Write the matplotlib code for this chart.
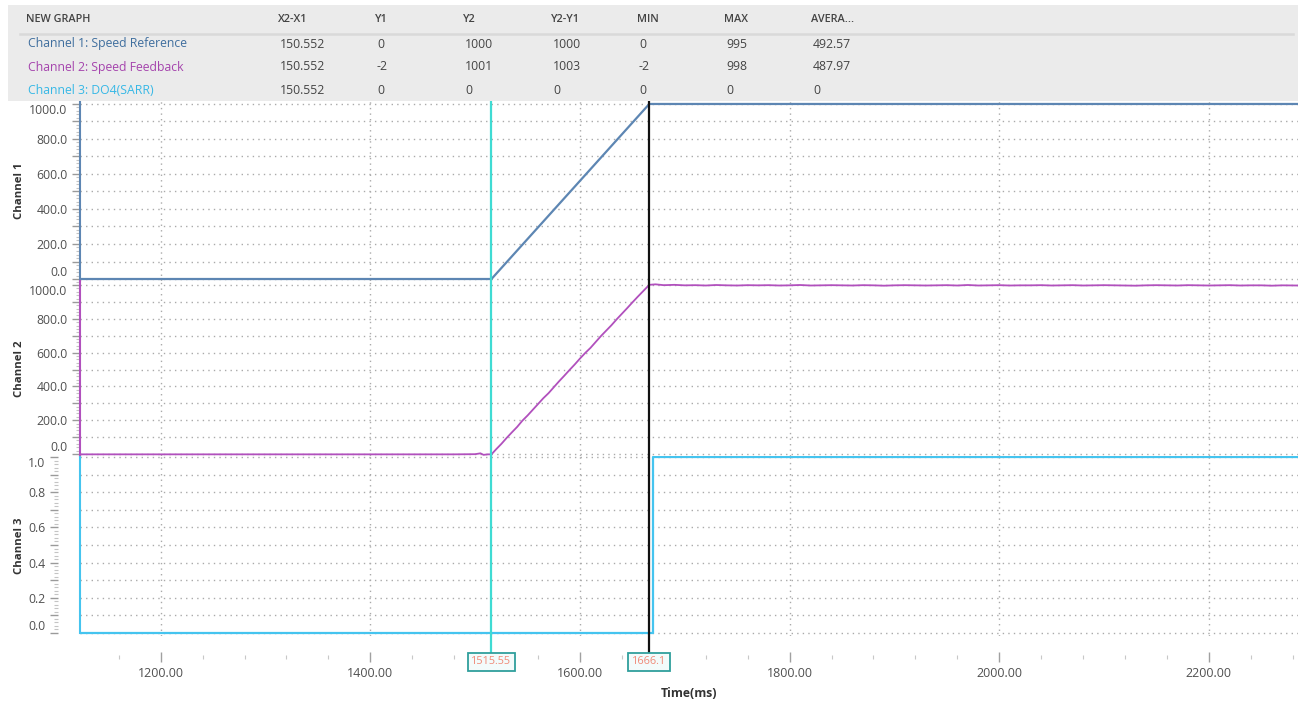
import matplotlib
matplotlib.use("Agg")
import matplotlib.pyplot as plt
from matplotlib.ticker import MultipleLocator, FuncFormatter
from matplotlib.patches import Rectangle
from matplotlib.lines import Line2D
from matplotlib.transforms import blended_transform_factory

plt.rcParams["font.family"] = ["Open Sans", "DejaVu Sans"]

# cursor positions (ms)
cursor_1 = 1515.55
cursor_2 = 1666.1

# channel 1: speed reference
ref_t = [1123, 1515.55, 1666.1, 2285]
ref_v = [0, 0, 1000, 1000]

# channel 2: speed feedback
fb_t = [1123, 1200, 1300, 1400, 1480, 1500, 1505, 1508, 1512, 1515.55,
        1520, 1525, 1530, 1535, 1540, 1545, 1550, 1555, 1560, 1565, 1570,
        1575, 1580, 1585, 1590, 1595, 1600, 1605, 1610, 1615, 1620, 1625,
        1630, 1635, 1640, 1645, 1650, 1655, 1660, 1666.1,
        1672, 1680, 1690, 1700, 1710, 1720, 1730, 1740, 1750, 1760, 1770,
        1780, 1790, 1800, 1810, 1820, 1830, 1840, 1850, 1860, 1870, 1880,
        1890, 1900, 1910, 1920, 1930, 1940, 1950, 1960, 1970, 1980, 1990,
        2000, 2010, 2020, 2030, 2040, 2050, 2060, 2070, 2080, 2090, 2100,
        2110, 2120, 2130, 2140, 2150, 2160, 2170, 2180, 2190, 2200, 2210,
        2220, 2230, 2240, 2250, 2260, 2270, 2285]
fb_v = [-2, -2, -2, -2, -2, -1, 4, -5, -2, -2,
        28, 60, 95, 128, 160, 197, 228, 262, 296, 330, 360,
        395, 430, 463, 497, 530, 565, 598, 628, 663, 698, 730,
        762, 797, 830, 863, 897, 930, 962, 1001,
        1004, 999, 1001, 998, 999, 997, 1000, 998, 997, 999, 998,
        999, 997, 998, 1000, 997, 998, 999, 998, 997, 999, 998,
        996, 998, 999, 998, 997, 998, 999, 997, 1000, 997, 998,
        999, 997, 998, 998, 999, 997, 998, 999, 997, 998, 999,
        998, 997, 996, 998, 999, 998, 997, 999, 998, 997, 998,
        999, 997, 998, 998, 996, 998, 997]

# channel 3: DO4(SARR)
do_t = [1123, 1669.5, 1669.5, 2285]
do_v = [0, 0, 1, 1]

# summary table
columns = ["X2-X1", "Y1", "Y2", "Y2-Y1", "MIN", "MAX", "AVERA..."]
channel_names = ["Channel 1: Speed Reference", "Channel 2: Speed Feedback",
                 "Channel 3: DO4(SARR)"]
table_rows = [
    ["150.552", "0", "1000", "1000", "0", "995", "492.57"],
    ["150.552", "-2", "1001", "1003", "-2", "998", "487.97"],
    ["150.552", "0", "0", "0", "0", "0", "0"],
]

c1 = "#5d86b3"
c2 = "#b150bd"
c3 = "#45c4ef"
name_colors = ["#3f6e9e", "#a544ad", "#37b8e6"]
cur1_color = "#3fdbd3"
text_gray = "#505050"
grid_gray = "#aaaaaa"

W, H = 1298, 711
fig = plt.figure(figsize=(W / 100, H / 100), dpi=100)


def fx(px):
    return px / W


def fy(py):
    return 1 - py / H


left = fx(80)
width = 1 - left
ax1 = fig.add_axes([left, fy(281), width, fy(101) - fy(281)])
ax2 = fig.add_axes([left, fy(456), width, fy(281) - fy(456)])
ax3 = fig.add_axes([left, fy(636), width, fy(456) - fy(636)])

ax1.plot(ref_t, ref_v, color=c1, lw=1.6)
ax2.plot(fb_t, fb_v, color=c2, lw=1.3)
ax3.plot(do_t, do_v, color=c3, lw=1.6)

ax1.set_ylim(-11.4, 1017)
ax2.set_ylim(-11.8, 1023.7)
ax3.set_ylim(-0.017, 1.0057)

spine_colors = [c1, c2, c3]
for i, ax in enumerate([ax1, ax2, ax3]):
    ax.set_xlim(1123, 2285)
    ax.set_facecolor("none")
    for s in ["top", "right", "bottom"]:
        ax.spines[s].set_visible(False)
    ax.spines["left"].set_color(spine_colors[i])
    ax.spines["left"].set_linewidth(1.5)
    ax.xaxis.set_major_locator(MultipleLocator(200))
    ax.xaxis.set_minor_locator(MultipleLocator(40))
    ax.grid(True, which="major", color=grid_gray, lw=1, ls=(0, (1, 3)))
    ax.tick_params(axis="y", which="major", length=6, width=1, color="#9a9a9a",
                   labelsize=8.8, labelcolor=text_gray, pad=3)
    ax.tick_params(axis="y", which="minor", length=3, width=0.8, color="#c4c4c4")
    if ax is not ax3:
        ax.tick_params(axis="x", which="both", bottom=False, labelbottom=False)

for ax in [ax1, ax2]:
    ax.yaxis.set_major_locator(MultipleLocator(100))
    ax.yaxis.set_minor_locator(MultipleLocator(20))
    ax.yaxis.set_major_formatter(
        FuncFormatter(lambda v, p: f"{v:.1f}" if round(v) % 200 == 0 else ""))

ax3.yaxis.set_major_locator(MultipleLocator(0.1))
ax3.yaxis.set_minor_locator(MultipleLocator(0.02))
ax3.yaxis.set_major_formatter(
    FuncFormatter(lambda v, p: f"{v:.1f}" if round(v * 10) % 2 == 0 else ""))
ax3.spines["left"].set_visible(False)
ax3.spines["left"].set_position(("outward", 16))
ax3.plot([1123, 1123], [0, 1], color=c3, lw=1.5, clip_on=False)

# x axis sits below the lowest panel
ax3.spines["bottom"].set_position(("outward", 15))
ax3.xaxis.set_major_formatter(FuncFormatter(lambda v, p: f"{v:.2f}"))
ax3.tick_params(axis="x", which="major", direction="inout", length=7, width=1,
                color="#a0a0a0", labelsize=9, labelcolor=text_gray, pad=4)
ax3.tick_params(axis="x", which="minor", direction="inout", length=3, width=0.8,
                color="#c8c8c8")
ax3.set_xlabel("Time(ms)", fontsize=8.8, fontweight="bold", color="#333333",
               labelpad=5)

fig.canvas.draw()
# keep the outermost labels inside each panel
for ax in [ax1, ax2, ax3]:
    labels = [t for t in ax.get_yticklabels() if t.get_text()]
    ylo, yhi = ax.get_ylim()
    vis = [t for t in labels if ylo <= t.get_position()[1] <= yhi]
    if vis:
        vis[0].set_va("bottom")
        vis[-1].set_va("top")

for ax, name in zip([ax1, ax2, ax3], ["Channel 1", "Channel 2", "Channel 3"]):
    bb = ax.get_position()
    fig.text(fx(19), (bb.y0 + bb.y1) / 2, name, rotation=90, ha="center",
             va="center", fontsize=8.2, fontweight="bold", color="#333333")

# cursors
trans = blended_transform_factory(ax3.transData, fig.transFigure)
fig.add_artist(Line2D([cursor_1, cursor_1], [fy(102), fy(654)], transform=trans,
                      color=cur1_color, lw=1.6))
fig.add_artist(Line2D([cursor_2, cursor_2], [fy(102), fy(654)], transform=trans,
                      color="#111111", lw=1.6))
for cx in [cursor_1, cursor_2]:
    fig.text(cx, fy(662), f"{cx:g}", transform=trans, ha="center", va="center",
             fontsize=7.8, color="#f08a78",
             bbox=dict(boxstyle="square,pad=0.35", fc="#f3fbfb",
                       ec="#2f9f9c", lw=1.3))

# summary table at the top
fig.add_artist(Rectangle((fx(8), fy(101)), 1 - fx(8), fy(5) - fy(101),
                         transform=fig.transFigure, fc="#ebebeb", ec="none",
                         zorder=5))
fig.add_artist(Line2D([fx(20), fx(1293)], [fy(34), fy(34)],
                      transform=fig.transFigure, color="#d9d9d9", lw=1.8,
                      zorder=6))
col_x = [278, 375, 463, 551, 637, 724, 811]
fig.text(fx(26), fy(20), "NEW GRAPH", fontsize=7.8, fontweight="semibold",
         color="#444444", va="center", zorder=7)
for x, c in zip(col_x, columns):
    fig.text(fx(x), fy(20), c, fontsize=7.8, fontweight="semibold",
             color="#444444", va="center", zorder=7)
row_y = [44, 67, 90]
for y, name, col, row in zip(row_y, channel_names, name_colors, table_rows):
    fig.text(fx(28), fy(y), name, fontsize=8.8, color=col, va="center", zorder=7)
    for x, val in zip(col_x, row):
        fig.text(fx(x + 2), fy(y), val, fontsize=8.8, color="#444444",
                 va="center", zorder=7)

fig.savefig("out.png", dpi=100)
